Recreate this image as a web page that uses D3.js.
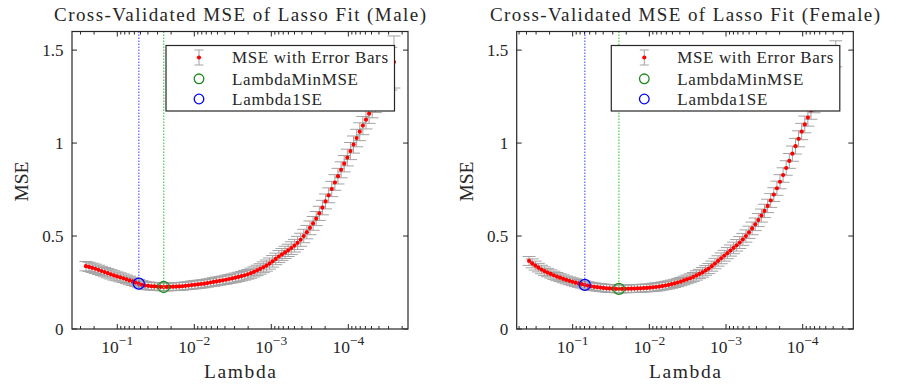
<!DOCTYPE html>
<html lang="en">
<head>
	<meta charset="utf-8">
	<title>Cross-validated MSE of lasso fit</title>
	<script src="https://d3js.org/d3.v7.min.js"></script>
	<style type="text/css">
		body {
			margin: 0;
			background: #fff;
		}
	</style>
</head>
<body>
	<svg id="chart-svg"></svg>

	<script type="text/javascript">
		// ---------- data ----------
		let lambdaMale = [
			0.2553, 0.2326, 0.2120, 0.1931, 0.1760, 0.1604, 0.1461, 0.1331, 0.1213, 0.1105,
			0.1007, 0.09177, 0.08362, 0.07619, 0.06942, 0.06325, 0.05763, 0.05251, 0.04785, 0.04360,
			0.03972, 0.03619, 0.03298, 0.03005, 0.02738, 0.02495, 0.02273, 0.02071, 0.01887, 0.01720,
			0.01567, 0.01428, 0.01301, 0.01185, 0.01080, 0.009840, 0.008963, 0.008167, 0.007441, 0.006780,
			0.006178, 0.005629, 0.005129, 0.004673, 0.004258, 0.003880, 0.003535, 0.003221, 0.002935, 0.002674,
			0.002437, 0.002220, 0.002023, 0.001843, 0.001680, 0.001530, 0.001394, 0.001270, 0.001158, 0.001055,
			0.0009610, 0.0008757, 0.0007979, 0.0007270, 0.0006624, 0.0006036, 0.0005500, 0.0005011, 0.0004566, 0.0004160,
			0.0003791, 0.0003454, 0.0003147, 0.0002868, 0.0002613, 0.0002381, 0.0002169, 0.0001977, 0.0001801, 0.0001641,
			0.0001495, 0.0001362, 0.0001241, 0.0001131, 0.0001031, 0.00009391, 0.00008557, 0.00007797, 0.00007104, 0.00006473,
			0.00005898, 0.00005374, 0.00004897, 0.00004462, 0.00004065, 0.00003704, 0.00003375, 0.00003075, 0.00002802, 0.00002553
		]
		let mseMale = [
			0.338, 0.334, 0.329, 0.324, 0.318, 0.312, 0.306, 0.300, 0.294, 0.288,
			0.283, 0.278, 0.273, 0.267, 0.261, 0.256, 0.250, 0.244, 0.238, 0.234,
			0.232, 0.230, 0.229, 0.228, 0.227, 0.226, 0.2265, 0.227, 0.2275, 0.228,
			0.229, 0.230, 0.232, 0.234, 0.236, 0.238, 0.240, 0.242, 0.244, 0.247,
			0.250, 0.253, 0.256, 0.259, 0.262, 0.265, 0.269, 0.272, 0.276, 0.280,
			0.284, 0.289, 0.294, 0.300, 0.307, 0.315, 0.323, 0.332, 0.341, 0.352,
			0.364, 0.377, 0.390, 0.401, 0.412, 0.423, 0.435, 0.448, 0.463, 0.480,
			0.500, 0.521, 0.544, 0.568, 0.594, 0.622, 0.653, 0.686, 0.719, 0.753,
			0.788, 0.822, 0.856, 0.889, 0.922, 0.957, 0.992, 1.027, 1.061, 1.094,
			1.126, 1.158, 1.191, 1.224, 1.258, 1.293, 1.328, 1.364, 1.400, 1.436
		]
		let seMale = [
			0.025, 0.025, 0.025, 0.025, 0.025, 0.025, 0.025, 0.025, 0.025, 0.025,
			0.024, 0.024, 0.023, 0.023, 0.023, 0.022, 0.022, 0.022, 0.022, 0.022,
			0.021, 0.021, 0.021, 0.021, 0.021, 0.021, 0.021, 0.021, 0.021, 0.021,
			0.021, 0.021, 0.021, 0.021, 0.022, 0.022, 0.022, 0.022, 0.022, 0.022,
			0.022, 0.023, 0.023, 0.023, 0.023, 0.024, 0.024, 0.024, 0.025, 0.025,
			0.025, 0.026, 0.026, 0.027, 0.027, 0.028, 0.028, 0.029, 0.030, 0.030,
			0.031, 0.031, 0.032, 0.032, 0.033, 0.033, 0.034, 0.034, 0.035, 0.035,
			0.036, 0.036, 0.037, 0.037, 0.038, 0.038, 0.039, 0.040, 0.040, 0.041,
			0.042, 0.042, 0.043, 0.044, 0.045, 0.046, 0.046, 0.047, 0.048, 0.049,
			0.050, 0.052, 0.055, 0.060, 0.066, 0.074, 0.083, 0.095, 0.115, 0.140
		]

		let lambdaFemale = [
			0.3704, 0.3375, 0.3075, 0.2802, 0.2553, 0.2326, 0.2120, 0.1931, 0.1760, 0.1604,
			0.1461, 0.1331, 0.1213, 0.1105, 0.1007, 0.09177, 0.08362, 0.07619, 0.06942, 0.06325,
			0.05763, 0.05251, 0.04785, 0.04360, 0.03972, 0.03619, 0.03298, 0.03005, 0.02738, 0.02495,
			0.02273, 0.02071, 0.01887, 0.01720, 0.01567, 0.01428, 0.01301, 0.01185, 0.01080, 0.009840,
			0.008963, 0.008167, 0.007441, 0.006780, 0.006178, 0.005629, 0.005129, 0.004673, 0.004258, 0.003880,
			0.003535, 0.003221, 0.002935, 0.002674, 0.002437, 0.002220, 0.002023, 0.001843, 0.001680, 0.001530,
			0.001394, 0.001270, 0.001158, 0.001055, 0.0009610, 0.0008757, 0.0007979, 0.0007270, 0.0006624, 0.0006036,
			0.0005500, 0.0005011, 0.0004566, 0.0004160, 0.0003791, 0.0003454, 0.0003147, 0.0002868, 0.0002613, 0.0002381,
			0.0002169, 0.0001977, 0.0001801, 0.0001641, 0.0001495, 0.0001362, 0.0001241, 0.0001131, 0.0001031, 0.00009391,
			0.00008557, 0.00007797, 0.00007104, 0.00006473, 0.00005898, 0.00005374, 0.00004897, 0.00004462, 0.00004065, 0.00003704
		]
		let mseFemale = [
			0.366, 0.353, 0.341, 0.330, 0.320, 0.311, 0.303, 0.296, 0.289, 0.282,
			0.276, 0.270, 0.264, 0.259, 0.254, 0.249, 0.245, 0.241, 0.237, 0.233,
			0.230, 0.227, 0.225, 0.223, 0.221, 0.219, 0.218, 0.217, 0.2162, 0.2155,
			0.2158, 0.2162, 0.2166, 0.217, 0.2175, 0.218, 0.219, 0.220, 0.221, 0.222,
			0.224, 0.226, 0.228, 0.231, 0.234, 0.237, 0.241, 0.245, 0.250, 0.255,
			0.261, 0.267, 0.273, 0.280, 0.288, 0.296, 0.305, 0.315, 0.325, 0.338,
			0.352, 0.366, 0.380, 0.394, 0.408, 0.422, 0.436, 0.450, 0.465, 0.482,
			0.500, 0.520, 0.541, 0.563, 0.586, 0.610, 0.635, 0.662, 0.691, 0.723,
			0.757, 0.792, 0.828, 0.866, 0.904, 0.943, 0.983, 1.023, 1.062, 1.100,
			1.137, 1.175, 1.212, 1.250, 1.288, 1.326, 1.364, 1.402, 1.440, 1.480
		]
		let seFemale = [
			0.024, 0.024, 0.024, 0.023, 0.023, 0.023, 0.022, 0.022, 0.022, 0.022,
			0.021, 0.021, 0.021, 0.021, 0.021, 0.021, 0.021, 0.021, 0.021, 0.021,
			0.021, 0.021, 0.021, 0.021, 0.021, 0.021, 0.021, 0.021, 0.021, 0.021,
			0.021, 0.021, 0.021, 0.021, 0.021, 0.021, 0.021, 0.021, 0.021, 0.021,
			0.022, 0.022, 0.022, 0.022, 0.022, 0.022, 0.022, 0.022, 0.022, 0.022,
			0.023, 0.023, 0.024, 0.024, 0.025, 0.025, 0.026, 0.026, 0.027, 0.027,
			0.028, 0.028, 0.029, 0.029, 0.030, 0.030, 0.031, 0.031, 0.032, 0.032,
			0.033, 0.033, 0.034, 0.034, 0.035, 0.035, 0.036, 0.036, 0.037, 0.037,
			0.038, 0.038, 0.039, 0.039, 0.040, 0.041, 0.042, 0.043, 0.044, 0.045,
			0.046, 0.047, 0.049, 0.051, 0.053, 0.055, 0.058, 0.061, 0.065, 0.070
		]

		// index of LambdaMinMSE and Lambda1SE in each series
		let minIdxMale = 25
		let oneSEIdxMale = 17
		let minIdxFemale = 29
		let oneSEIdxFemale = 18

		// axis limits and ticks
		let xLimMale = [0.3873, 0.00001679]
		let xLimFemale = [0.5370, 0.00002188]
		let yLim = [0, 1.6]
		let yTicks = [0, 0.5, 1, 1.5]
		let yTickLabels = ['0', '0.5', '1', '1.5']
		let xMajorTicks = [1e-1, 1e-2, 1e-3, 1e-4]
		let xTickExponents = ['\u22121', '\u22122', '\u22123', '\u22124']

		let titles = ['Cross-Validated MSE of Lasso Fit (Male)', 'Cross-Validated MSE of Lasso Fit (Female)']
		let xLabel = 'Lambda'
		let yLabel = 'MSE'
		let legendLabels = ['MSE with Error Bars', 'LambdaMinMSE', 'Lambda1SE']
	</script>

	<script type="text/javascript">
		// ---------- layout ----------
		let w = 901
		let h = 389
		let axisColor = '#262626'
		let barColor = '#a3a3a3'
		let serif = "'Liberation Serif', 'DejaVu Serif', serif"

		let svg = d3.select('#chart-svg')
			.attr('width', w)
			.attr('height', h)
			.attr('font-family', serif)

		function fitText(sel, width) {
			sel.attr('textLength', width).attr('lengthAdjust', 'spacing')
		}

		function addText(parent, size) {
			return parent.append('text')
				.attr('font-family', serif)
				.attr('font-size', size)
				.attr('fill', axisColor)
		}

		function drawPanel(p) {
			let xScale = d3.scaleLog()
				.domain(p.xLim)
				.range([p.left, p.right])
			let yScale = d3.scaleLinear()
				.domain(yLim)
				.range([p.bottom, p.top])

			let grp = svg.append('g')
			let pts = p.lambda.map(function(l, i) {
				return {lambda: l, mse: p.mse[i], se: p.se[i]}
			})

			// error bars
			grp.append('g')
				.attr('fill', 'none')
				.attr('stroke', barColor)
				.attr('stroke-width', 1)
				.selectAll('path')
				.data(pts)
				.join('path')
				.attr('d', function(d) {
					let x = xScale(d.lambda)
					let y1 = yScale(d.mse - d.se)
					let y2 = yScale(d.mse + d.se)
					return 'M' + x + ',' + y1 + 'V' + y2 +
						'M' + (x - 6.5) + ',' + y1 + 'H' + (x + 6.5) +
						'M' + (x - 6.5) + ',' + y2 + 'H' + (x + 6.5)
				})

			// red dots
			grp.append('g')
				.selectAll('circle')
				.data(pts)
				.join('circle')
				.attr('cx', (d) => xScale(d.lambda))
				.attr('cy', (d) => yScale(d.mse))
				.attr('r', 2.1)
				.attr('fill', '#ff0000')

			// dotted guide lines + circles
			let marks = [
				{idx: p.oneSEIdx, line: '#5a5aff', ring: '#0000ff'},
				{idx: p.minIdx, line: '#44d044', ring: '#1f8a1f'}
			]
			marks.forEach(function(m) {
				let d = pts[m.idx]
				grp.append('line')
					.attr('x1', xScale(d.lambda))
					.attr('x2', xScale(d.lambda))
					.attr('y1', yScale(yLim[1]))
					.attr('y2', yScale(d.mse - d.se))
					.attr('stroke', m.line)
					.attr('stroke-width', 1.2)
					.attr('stroke-dasharray', '1.5,1.5')
				grp.append('circle')
					.attr('cx', xScale(d.lambda))
					.attr('cy', yScale(d.mse))
					.attr('r', 5.5)
					.attr('fill', 'none')
					.attr('stroke', m.ring)
					.attr('stroke-width', 1.3)
			})

			// axes box
			grp.append('rect')
				.attr('x', p.left)
				.attr('y', p.top)
				.attr('width', p.right - p.left)
				.attr('height', p.bottom - p.top)
				.attr('fill', 'none')
				.attr('stroke', axisColor)
				.attr('stroke-width', 1.2)

			// y ticks, inside on both sides
			let yt = grp.append('g').attr('stroke', axisColor)
			yTicks.forEach(function(t, i) {
				let y = yScale(t)
				yt.append('line').attr('x1', p.left).attr('x2', p.left + 5).attr('y1', y).attr('y2', y)
				yt.append('line').attr('x1', p.right).attr('x2', p.right - 5).attr('y1', y).attr('y2', y)
				addText(grp, 17)
					.attr('x', p.left - 8.5)
					.attr('y', y + 5.5)
					.attr('text-anchor', 'end')
					.text(yTickLabels[i])
			})

			// x ticks, log scale, inside on top and bottom
			let xt = grp.append('g').attr('stroke', axisColor)
			xScale.ticks().forEach(function(t) {
				let lg = Math.log10(t)
				let major = Math.abs(lg - Math.round(lg)) < 1e-6
				let len = major ? 5 : 3
				let x = xScale(t)
				xt.append('line').attr('x1', x).attr('x2', x).attr('y1', p.bottom).attr('y2', p.bottom - len)
				xt.append('line').attr('x1', x).attr('x2', x).attr('y1', p.top).attr('y2', p.top + len)
			})
			xMajorTicks.forEach(function(t, i) {
				let lbl = addText(grp, 17.5)
					.attr('x', xScale(t))
					.attr('y', p.bottom + 24)
					.attr('text-anchor', 'middle')
				lbl.append('tspan').text('10')
				lbl.append('tspan')
					.attr('dy', -8)
					.attr('font-size', 13.5)
					.text(xTickExponents[i])
			})

			// title and axis labels
			let cx = (p.left + p.right) / 2
			addText(grp, 19)
				.attr('x', cx)
				.attr('y', 20.5)
				.attr('text-anchor', 'middle')
				.text(p.title)
				.call(fitText, p.titleWidth)
			addText(grp, 19.5)
				.attr('x', cx)
				.attr('y', 378)
				.attr('text-anchor', 'middle')
				.text(xLabel)
				.call(fitText, 72)
			addText(grp, 19.5)
				.attr('transform', 'translate(' + (p.left - 44) + ',' + 181.5 + ') rotate(-90)')
				.attr('text-anchor', 'middle')
				.text(yLabel)
				.call(fitText, 40)

			// legend
			let lw = 228.5
			let lx = p.right - 13.5 - lw
			let ly = p.top + 14
			let lg = grp.append('g').attr('transform', 'translate(' + lx + ',' + ly + ')')
			lg.append('rect')
				.attr('width', lw)
				.attr('height', 65.5)
				.attr('fill', '#fff')
				.attr('stroke', axisColor)
				.attr('stroke-width', 1.2)
			let rowY = [12, 33.3, 53.5]
			let textW = [156, 126, 90]
			legendLabels.forEach(function(lab, i) {
				addText(lg, 17)
					.attr('x', 66)
					.attr('y', rowY[i] + 5.8)
					.text(lab)
					.call(fitText, textW[i])
			})
			let mx = 33
			lg.append('path')
				.attr('d', 'M' + mx + ',' + (rowY[0] - 7.5) + 'V' + (rowY[0] + 7.5) +
					'M' + (mx - 4.5) + ',' + (rowY[0] - 7.5) + 'H' + (mx + 4.5) +
					'M' + (mx - 4.5) + ',' + (rowY[0] + 7.5) + 'H' + (mx + 4.5))
				.attr('fill', 'none')
				.attr('stroke', barColor)
			lg.append('circle').attr('cx', mx).attr('cy', rowY[0]).attr('r', 2.1).attr('fill', '#ff0000')
			lg.append('circle').attr('cx', mx).attr('cy', rowY[1]).attr('r', 4.8)
				.attr('fill', 'none').attr('stroke', '#1f8a1f').attr('stroke-width', 1.3)
			lg.append('circle').attr('cx', mx).attr('cy', rowY[2]).attr('r', 4.8)
				.attr('fill', 'none').attr('stroke', '#0000ff').attr('stroke-width', 1.3)

			return grp
		}

		drawPanel({
			left: 72, right: 408, top: 31.5, bottom: 329,
			xLim: xLimMale,
			lambda: lambdaMale, mse: mseMale, se: seMale,
			minIdx: minIdxMale, oneSEIdx: oneSEIdxMale,
			title: titles[0], titleWidth: 372
		})
		drawPanel({
			left: 516.7, right: 853.3, top: 31.5, bottom: 329,
			xLim: xLimFemale,
			lambda: lambdaFemale, mse: mseFemale, se: seFemale,
			minIdx: minIdxFemale, oneSEIdx: oneSEIdxFemale,
			title: titles[1], titleWidth: 390
		})
	</script>
</body>
</html>
